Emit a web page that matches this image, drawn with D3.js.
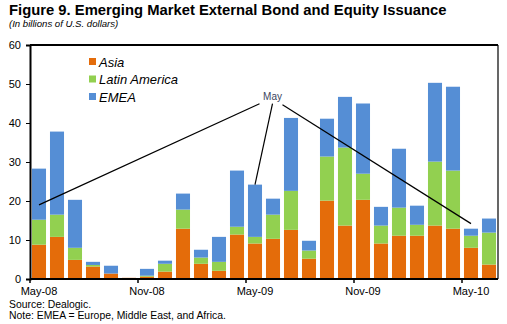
<!DOCTYPE html>
<html>
<head>
<meta charset="utf-8">
<script src="https://cdn.jsdelivr.net/npm/d3@7"></script>
<style>
  body { margin: 0; background: #fff; }
  text { font-family: Arial, "Liberation Sans", sans-serif; }
  .title { font-size: 14.8px; font-weight: bold; }
  .subtitle { font-size: 9.6px; font-style: italic; }
  .tick text { font-size: 11px; fill: #000; }
  .legend-text { font-size: 13px; font-style: italic; }
  .foot { font-size: 10.4px; }
</style>
</head>
<body>
<div id="chart"></div>
<script>
// monthly issuance, billions of U.S. dollars
var months = ["May-08","Jun-08","Jul-08","Aug-08","Sep-08","Oct-08","Nov-08","Dec-08",
              "Jan-09","Feb-09","Mar-09","Apr-09","May-09","Jun-09","Jul-09","Aug-09",
              "Sep-09","Oct-09","Nov-09","Dec-09","Jan-10","Feb-10","Mar-10","Apr-10",
              "May-10","Jun-10"];
var asia  = [8.8, 10.8, 4.9, 3.2, 1.4, 0.3, 0.6, 1.9, 12.9, 3.9, 2.1, 11.4, 9.1,
             10.3, 12.6, 5.2, 20.1, 13.7, 20.3, 9.1, 11.1, 11.1, 13.7, 12.9, 8.0, 3.7];
var latam = [6.4, 5.7, 3.1, 0.4, 0, 0, 0.25, 2.0, 4.9, 1.6, 2.3, 2.0, 1.7,
             6.2, 10.0, 2.1, 11.3, 20.0, 6.7, 4.6, 7.2, 2.8, 16.4, 14.9, 3.1, 8.2];
var emea  = [13.1, 21.3, 12.3, 0.8, 2.0, 0, 1.75, 0.8, 4.1, 2.0, 6.4, 14.4, 13.4,
             4.1, 18.7, 2.5, 9.7, 13.0, 18.0, 4.8, 15.1, 4.9, 20.2, 21.5, 1.8, 3.6];
var seriesNames = ["Asia", "Latin America", "EMEA"];
var colors = ["#E46C0A", "#92D050", "#558ED5"];
var xTickLabels = ["May-08", "Nov-08", "May-09", "Nov-09", "May-10"];
var yTicks = [0, 10, 20, 30, 40, 50, 60];
// annotation "May" pointing at the May bars
var noteLabel = "May";
var notePos = { month: "Jun-09", value: 47 };
var noteTargets = [
  { month: "May-08", value: 19 },
  { month: "May-09", value: 24.2 },
  { month: "May-10", value: 14.2 }
];

var W = 507, H = 324;
var margin = { top: 45, right: 10, bottom: 45, left: 30 };
var width = 468, height = 234;

var svg = d3.select("#chart").append("svg")
    .attr("width", W).attr("height", H);

svg.append("text").attr("class", "title")
    .attr("x", 9).attr("y", 15)
    .text("Figure 9. Emerging Market External Bond and Equity Issuance");
svg.append("text").attr("class", "subtitle")
    .attr("x", 9).attr("y", 27)
    .text("(In billions of U.S. dollars)");

var g = svg.append("g")
    .attr("transform", "translate(" + margin.left + "," + margin.top + ")");

var x = d3.scaleBand().domain(months).range([0, width]).paddingInner(0.22).paddingOuter(0.11);
var y = d3.scaleLinear().domain([0, 60]).range([height, 0]);

var rows = months.map(function(m, i) {
  return { month: m, Asia: asia[i], "Latin America": latam[i], EMEA: emea[i] };
});
var stacked = d3.stack().keys(seriesNames)(rows);

g.selectAll("g.layer")
    .data(stacked)
  .enter().append("g")
    .attr("class", "layer")
    .attr("fill", function(d, i) { return colors[i]; })
  .selectAll("rect")
    .data(function(d) { return d; })
  .enter().append("rect")
    .attr("x", function(d) { return x(d.data.month); })
    .attr("width", x.bandwidth())
    .attr("y", function(d) { return y(d[1]); })
    .attr("height", function(d) { return Math.max(0, y(d[0]) - y(d[1])); });

// frame (top and right)
g.append("line").attr("x1", 0).attr("x2", width).attr("y1", 0).attr("y2", 0)
    .attr("stroke", "#000").attr("stroke-width", 2);
g.append("line").attr("x1", width).attr("x2", width).attr("y1", 0).attr("y2", height)
    .attr("stroke", "#000").attr("stroke-width", 1.2);

// y axis
var yAxis = g.append("g")
    .call(d3.axisLeft(y).tickValues(yTicks).tickSize(4).tickPadding(5));
yAxis.select(".domain").attr("stroke-width", 2);

// x axis: labels centred on months, tick marks on the left band edge
var step = x.step();
var xAxis = g.append("g").attr("transform", "translate(0," + height + ")");
xAxis.append("line").attr("x1", 0).attr("x2", width)
    .attr("stroke", "#000").attr("stroke-width", 2);
xAxis.selectAll("line.tk")
    .data(xTickLabels)
  .enter().append("line")
    .attr("class", "tk")
    .attr("x1", function(d) { return months.indexOf(d) * step; })
    .attr("x2", function(d) { return months.indexOf(d) * step; })
    .attr("y1", 0).attr("y2", 4)
    .attr("stroke", "#000").attr("stroke-width", 1.5);
xAxis.selectAll("text")
    .data(xTickLabels)
  .enter().append("text")
    .attr("x", function(d) { return x(d) + x.bandwidth() / 2; })
    .attr("y", 16)
    .attr("text-anchor", "middle")
    .style("font-size", "11px")
    .text(function(d) { return d; });

// legend
var legend = g.append("g").attr("transform", "translate(59,13)");
seriesNames.forEach(function(name, i) {
  var row = legend.append("g").attr("transform", "translate(0," + (i * 17.5) + ")");
  row.append("rect").attr("x", 0).attr("y", 0).attr("width", 7).attr("height", 7)
      .attr("fill", colors[i]);
  row.append("text").attr("class", "legend-text")
      .attr("x", 10).attr("y", 8.5).text(name);
});

// annotation
var lx = x(notePos.month) + x.bandwidth() / 2 - 0.5, ly = y(notePos.value);
g.append("text")
    .attr("x", lx).attr("y", ly + 4)
    .attr("text-anchor", "middle")
    .style("font-size", "10px")
    .attr("fill", "#3b4660")
    .text(noteLabel);
var starts = [[lx - 13, ly + 8], [lx + 0, ly + 8], [lx + 10, ly + 9]];
noteTargets.forEach(function(t, i) {
  g.append("line")
      .attr("x1", starts[i][0]).attr("y1", starts[i][1])
      .attr("x2", x(t.month) + x.bandwidth() / 2).attr("y2", y(t.value))
      .attr("stroke", "#000").attr("stroke-width", 1.2);
});

// footnotes
svg.append("text").attr("class", "foot").attr("x", 9).attr("y", 308).text("Source: Dealogic.");
svg.append("text").attr("class", "foot").attr("x", 9).attr("y", 319)
    .text("Note: EMEA = Europe, Middle East, and Africa.");
</script>
</body>
</html>
